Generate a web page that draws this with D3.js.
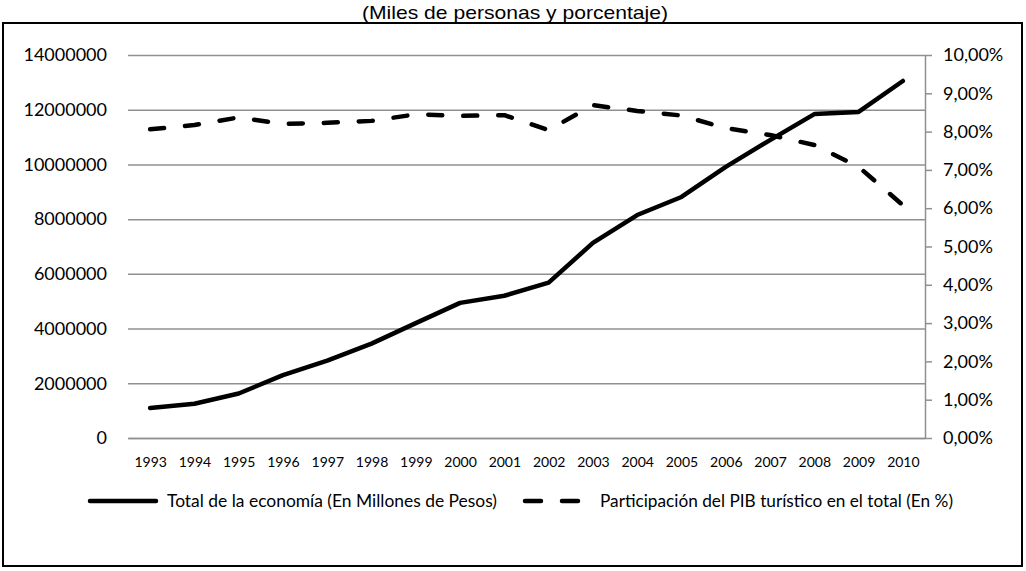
<!DOCTYPE html>
<html><head><meta charset="utf-8">
<script src="https://cdn.jsdelivr.net/npm/d3@7"></script>
<style>body{margin:0;background:#fff}</style>
</head><body><svg id="c" width="1026" height="571"></svg>
<script>
const years = ["1993","1994","1995","1996","1997","1998","1999","2000","2001","2002","2003","2004","2005","2006","2007","2008","2009","2010"];
const totalEconomia = [1095000,1250000,1625000,2300000,2830000,3450000,4200000,4940000,5200000,5680000,7130000,8150000,8810000,9910000,10890000,11840000,11920000,13050000];
const participacion = [8.06,8.17,8.37,8.20,8.23,8.28,8.45,8.41,8.43,8.04,8.69,8.54,8.42,8.09,7.91,7.65,7.08,6.08];
const leftTicks = [0,2000000,4000000,6000000,8000000,10000000,12000000,14000000];
const rightTicks = [0,1,2,3,4,5,6,7,8,9,10];
const titleText = "(Miles de personas y porcentaje)";
const seriesNames = ["Total de la economía (En Millones de Pesos)","Participación del PIB turístico en el total (En %)"];

const svg = d3.select("#c");
const L = 128, R = 925, T = 55, B = 438;
const font = "Lato, 'Open Sans', sans-serif";

const x = d3.scalePoint().domain(years).range([L, R]).padding(0.5);
const yL = d3.scaleLinear().domain([0, 14000000]).range([B, T]);
const yR = d3.scaleLinear().domain([0, 10]).range([B, T]);

// outer border
svg.append("rect").attr("x", 3).attr("y", 23).attr("width", 1019).attr("height", 543)
  .attr("fill", "none").attr("stroke", "#000").attr("stroke-width", 2);

// title
svg.append("text").attr("x", 515).attr("y", 19).attr("text-anchor", "middle")
  .attr("font-family", "'Liberation Sans', Arial, sans-serif").attr("font-size", 19)
  .attr("textLength", 306).attr("lengthAdjust", "spacingAndGlyphs")
  .attr("fill", "#000").text(titleText);

// left axis with gridlines
const gL = svg.append("g").attr("transform", `translate(${L},0)`)
  .call(d3.axisLeft(yL).tickValues(leftTicks).tickSizeInner(-(R - L)).tickSizeOuter(0)
    .tickPadding(21).tickFormat(d3.format("d")));
gL.select(".domain").remove();
gL.selectAll(".tick line").attr("stroke", "#909090").attr("stroke-width", 1.5);
gL.selectAll(".tick text").attr("font-family", font).attr("font-size", 18).attr("fill", "#000");

// bottom axis
const gB = svg.append("g").attr("transform", `translate(0,${B})`)
  .call(d3.axisBottom(x).tickSize(0).tickPadding(19));
gB.select(".domain").attr("stroke", "#909090").attr("stroke-width", 1.5);
gB.selectAll(".tick text").attr("font-family", font).attr("font-size", 14).attr("fill", "#000");

// right axis
const gR = svg.append("g").attr("transform", `translate(${R},0)`)
  .call(d3.axisRight(yR).tickValues(rightTicks).tickSizeInner(7).tickSizeOuter(0)
    .tickPadding(11).tickFormat(d => d.toFixed(2).replace(".", ",") + "%"));
gR.select(".domain").attr("stroke", "#909090").attr("stroke-width", 1.5);
gR.selectAll(".tick line").attr("stroke", "#909090").attr("stroke-width", 1.5);
gR.selectAll(".tick text").attr("font-family", font).attr("font-size", 18).attr("fill", "#000");

// lines
const lineL = d3.line().x((d, i) => x(years[i])).y(d => yL(d));
const lineR = d3.line().x((d, i) => x(years[i])).y(d => yR(d));
svg.append("path").datum(totalEconomia).attr("d", lineL)
  .attr("fill", "none").attr("stroke", "#000").attr("stroke-width", 4.5)
  .attr("stroke-linejoin", "round").attr("stroke-linecap", "round");
svg.append("path").datum(participacion).attr("d", lineR)
  .attr("fill", "none").attr("stroke", "#000").attr("stroke-width", 4.5)
  .attr("stroke-dasharray", "14 21").attr("stroke-linejoin", "round").attr("stroke-linecap", "round");

// legend
const ly = 501;
svg.append("line").attr("x1", 90).attr("x2", 156).attr("y1", ly).attr("y2", ly)
  .attr("stroke", "#000").attr("stroke-width", 4.5).attr("stroke-linecap", "round");
svg.append("text").attr("x", 167).attr("y", ly + 6).attr("font-family", font).attr("font-size", 17)
  .attr("textLength", 330).attr("lengthAdjust", "spacingAndGlyphs").attr("fill", "#000").text(seriesNames[0]);
svg.append("line").attr("x1", 525).attr("x2", 578).attr("y1", ly).attr("y2", ly)
  .attr("stroke", "#000").attr("stroke-width", 4.5).attr("stroke-linecap", "round")
  .attr("stroke-dasharray", "16 21");
svg.append("text").attr("x", 600).attr("y", ly + 6).attr("font-family", font).attr("font-size", 17)
  .attr("textLength", 353).attr("lengthAdjust", "spacingAndGlyphs").attr("fill", "#000").text(seriesNames[1]);
</script>
</body></html>
